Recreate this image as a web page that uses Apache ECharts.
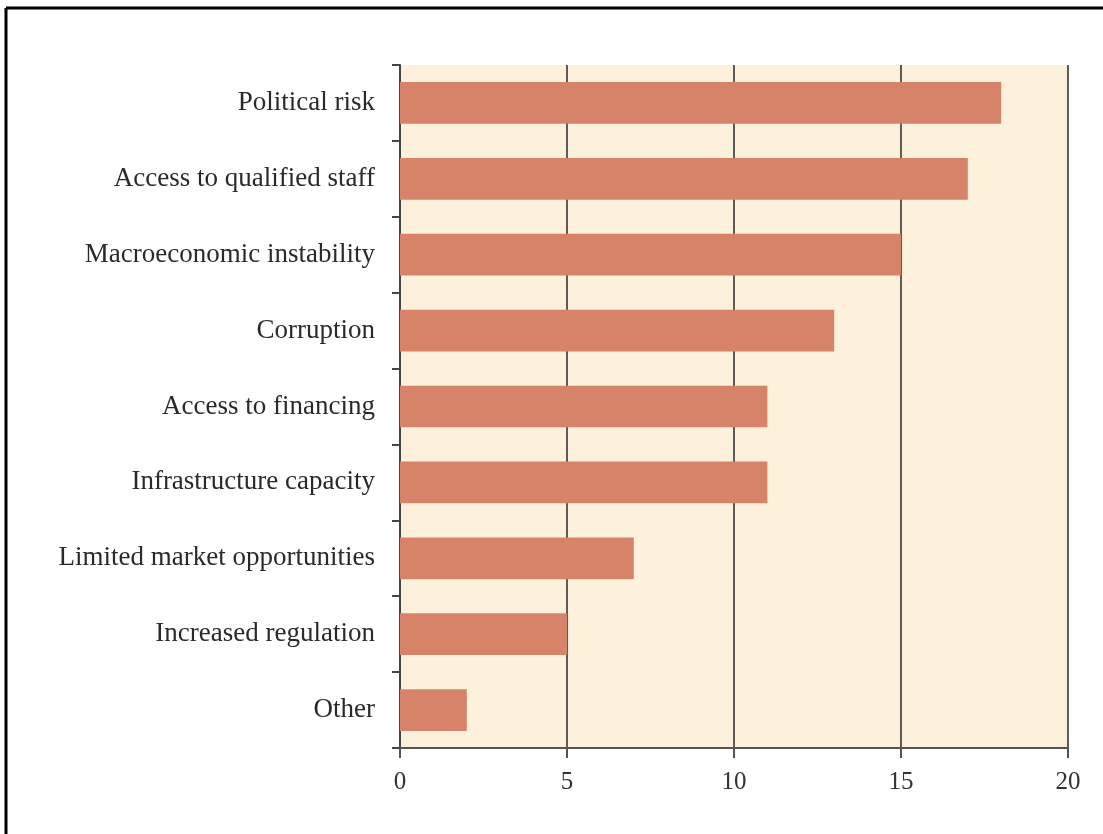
<!DOCTYPE html>
<html>
<head>
<meta charset="utf-8">
<style>
  html, body { margin: 0; padding: 0; background: #ffffff; }
  #chart { width: 1103px; height: 834px; }
</style>
<script src="https://cdn.jsdelivr.net/npm/echarts@6/dist/echarts.min.js"></script>
</head>
<body>
<div id="chart"></div>
<script>
// Obstacles ranked by share of respondents
const categories = [
  'Political risk',
  'Access to qualified staff',
  'Macroeconomic instability',
  'Corruption',
  'Access to financing',
  'Infrastructure capacity',
  'Limited market opportunities',
  'Increased regulation',
  'Other'
];
const values = [18, 17, 15, 13, 11, 11, 7, 5, 2];
const xTicks = [0, 5, 10, 15, 20];

const chart = echarts.init(document.getElementById('chart'), null, { renderer: 'canvas' });
const serif = '"Liberation Serif", "DejaVu Serif", serif';

chart.setOption({
  backgroundColor: '#ffffff',
  animation: false,
  graphic: [
    // frame lines along the top and left edges
    { type: 'line', shape: { x1: 6, y1: 8, x2: 1103, y2: 8 }, style: { stroke: '#000', lineWidth: 3 } },
    { type: 'line', shape: { x1: 6, y1: 8, x2: 6, y2: 834 }, style: { stroke: '#000', lineWidth: 3 } }
  ],
  grid: {
    left: 400, right: 35, top: 65, bottom: 86,
    show: true, backgroundColor: '#fdf1dc', borderWidth: 0
  },
  xAxis: {
    type: 'value',
    min: xTicks[0], max: xTicks[xTicks.length - 1], interval: 5,
    axisLine: { show: true, lineStyle: { color: '#555', width: 2 } },
    axisTick: { show: true, length: 10, lineStyle: { color: '#555', width: 2 } },
    axisLabel: { color: '#333', fontFamily: serif, fontSize: 25, margin: 22 },
    splitLine: { show: true, lineStyle: { color: '#2a2a2a', width: 1.5 } }
  },
  yAxis: {
    type: 'category',
    data: categories,
    inverse: true,
    axisLine: { show: true, lineStyle: { color: '#444', width: 2 } },
    axisTick: { show: true, length: 8, lineStyle: { color: '#444', width: 2 } },
    axisLabel: { color: '#2a2a2a', fontFamily: serif, fontSize: 27, margin: 25 },
    splitLine: { show: false }
  },
  series: [{
    type: 'bar',
    data: values,
    barCategoryGap: '45%',
    itemStyle: { color: '#d6836a' }
  }]
});
</script>
</body>
</html>
